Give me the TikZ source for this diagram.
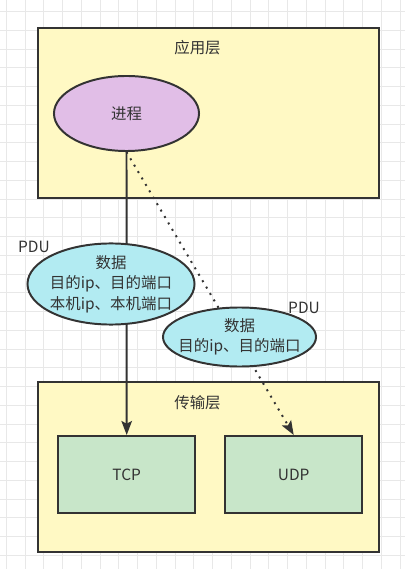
\documentclass[tikz,border=0pt]{standalone}
\usepackage{fontspec}
\setmainfont{Noto Sans CJK SC}
\usetikzlibrary{arrows.meta, shapes.geometric}
\definecolor{edge}{HTML}{333333}
\definecolor{gridgray}{HTML}{E8E8E8}
\definecolor{layerY}{HTML}{FFF9C4}
\definecolor{procP}{HTML}{E1BEE7}
\definecolor{pduC}{HTML}{B2EBF2}
\definecolor{protoG}{HTML}{C8E6C9}

\begin{document}
\begin{tikzpicture}[x=0.025cm, y=-0.025cm, font=\fontsize{11}{14.5}\selectfont, text=edge,
  >={Stealth[length=10pt, width=7.5pt, inset=2pt]},
  layerbox/.style={draw=edge, line width=1.4pt, fill=layerY, inner sep=0pt,
    minimum width=8.525cm, minimum height=4.25cm},
  protobox/.style={draw=edge, line width=1.4pt, fill=protoG, inner sep=0pt,
    minimum width=3.425cm, minimum height=1.925cm},
  pdu/.style={draw=edge, line width=1.4pt, fill=pduC, ellipse, inner xsep=-8pt,
    inner ysep=0pt, align=center},
  gridline/.style={gridgray, line width=0.7pt}]
  \useasboundingbox (0,0) rectangle (405,569);
  \fill[white] (0,0) rectangle (405,569);

  % background grid
  \foreach \gx in {0,...,21}
    \draw[gridline] (6.25+18.75*\gx,0) -- (6.25+18.75*\gx,569);
  \foreach \gy in {0,...,30}
    \draw[gridline] (0,11.7+18.75*\gy) -- (405,11.7+18.75*\gy);

  % layers
  \node[layerbox] (app) at (208.5,112.8) {};
  \node (appLabel) at (197.5,48) {应用层};
  \node[layerbox] (trans) at (208.5,466.7) {};
  \node (transLabel) at (197.5,403) {传输层};

  \node[draw=edge, line width=1.4pt, fill=procP, ellipse, inner sep=0pt,
    minimum width=3.625cm, minimum height=1.875cm] (proc) at (126.5,113.5) {进程};
  \node[protobox] (tcp) at (126.7,474.5) {TCP};
  \node[protobox] (udp) at (293.7,474.5) {UDP};

  % connectors
  \draw[->, edge, line width=1.4pt] (proc.south) -- (tcp.north);
  \draw[->, edge, line width=1.4pt, dash pattern=on 1.4pt off 3.9pt]
    (proc.south) -- (udp.north);

  % PDUs on top of the connectors
  \node[pdu, minimum width=4.175cm, minimum height=2.025cm] (pduTcp) at (111,284)
    {数据\\目的ip、目的端口\\本机ip、本机端口};
  \node (pduTcpLabel) at (34,247) {PDU};
  \node[pdu, minimum width=3.825cm, minimum height=1.475cm] (pduUdp) at (239.5,337)
    {数据\\目的ip、目的端口};
  \node (pduUdpLabel) at (304,308) {PDU};
\end{tikzpicture}
\end{document}
